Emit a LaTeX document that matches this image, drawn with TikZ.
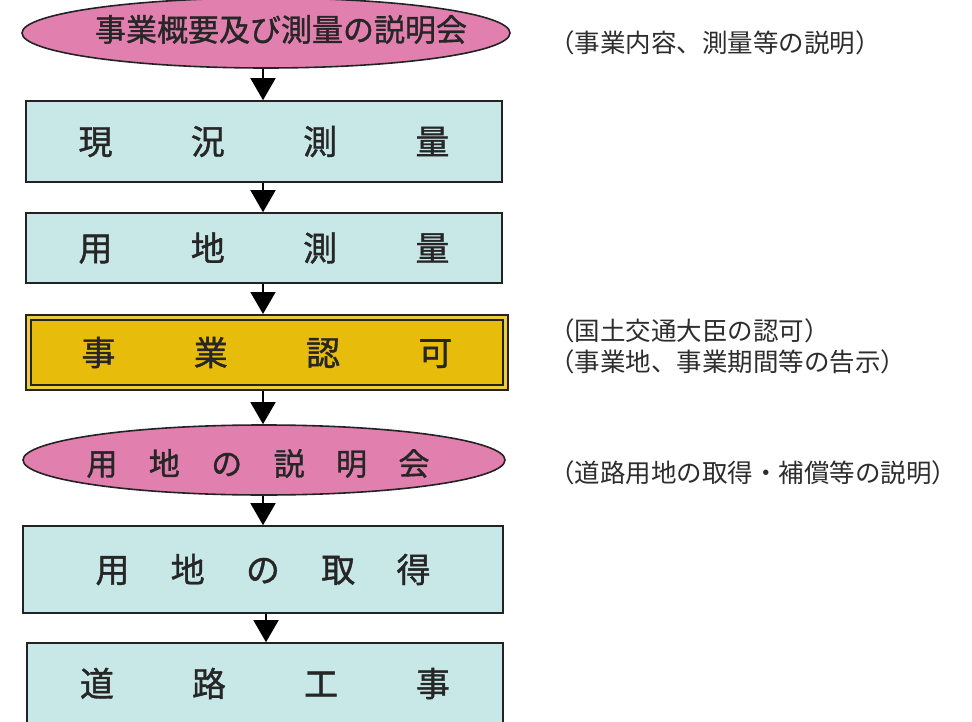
\documentclass[tikz,border=0pt]{standalone}
\usepackage{fontspec}
\setmainfont{Noto Sans CJK JP}
\newfontfamily\jpheavy{Noto Sans CJK JP}[FakeBold=1.2]
\usetikzlibrary{shapes.geometric,arrows.meta}
\definecolor{pinkfill}{RGB}{225,128,175}
\definecolor{cyanfill}{RGB}{200,232,232}
\definecolor{goldfill}{RGB}{232,188,10}
\definecolor{goldlight}{RGB}{238,205,60}
\definecolor{edgecol}{RGB}{35,35,35}
\definecolor{notecol}{RGB}{45,45,45}
\begin{document}
\begin{tikzpicture}[x=1pt,y=-1pt,
  ell/.style={ellipse,draw=edgecol,line width=1.6pt,fill=pinkfill,inner sep=0pt},
  box/.style={rectangle,draw=edgecol,line width=1.6pt,fill=cyanfill,inner sep=0pt},
  gbox/.style={rectangle,draw=edgecol,line width=1.4pt,double=goldlight,double distance=3.4pt,fill=goldfill,inner sep=0pt,outer sep=3.5pt},
  big/.style={font=\jpheavy\fontsize{34pt}{34pt}\selectfont,text=black!85},
  mid/.style={font=\jpheavy\fontsize{31pt}{31pt}\selectfont,text=black!85},
  note/.style={font=\fontsize{25.5pt}{25.5pt}\selectfont,text=notecol,anchor=west,inner sep=0pt},
  arr/.style={draw=black,line width=1.6pt,-{Triangle[width=25pt,length=22pt]}}]
\useasboundingbox (0,0) rectangle (972,722);
\coordinate (ax) at (263,0);
\coordinate (ax2) at (266,0);

\node[ell,minimum width=488pt,minimum height=70pt,
  label={[mid,xshift=15pt,yshift=3.5pt]center:事業概要及び測量の説明会}] (e1) at (266,33) {};
\node[box,big,minimum width=476pt,minimum height=81pt] (b1) at (264,141.5)
  {\makebox[371pt]{現\hfill 況\hfill 測\hfill 量}};
\node[box,big,minimum width=476pt,minimum height=70pt] (b2) at (264,248)
  {\makebox[371pt]{用\hfill 地\hfill 測\hfill 量}};
\node[gbox,big,minimum width=477pt,minimum height=70pt] (b3) at (267,352.5)
  {\makebox[371pt]{事\hfill 業\hfill 認\hfill 可}};
\node[ell,minimum width=482pt,minimum height=70pt,
  label={[mid,xshift=-6pt,yshift=-3.5pt]center:\makebox[343pt]{用\hfill 地\hfill の\hfill 説\hfill 明\hfill 会}}] (e2) at (264,460) {};
\node[box,big,minimum width=480pt,minimum height=87pt] (b4) at (263,569.5)
  {\makebox[335pt]{用\hfill 地\hfill の\hfill 取\hfill 得}};
\node[box,big,minimum width=476pt,minimum height=87pt,
  label={[big,yshift=3pt]center:\makebox[370pt]{道\hfill 路\hfill 工\hfill 事}}] (b5) at (265,686.5) {};

\node[note] (n1) at (549,43) {（事業内容、測量等の説明）};
\node[note] (n2) at (549,331) {（国土交通大臣の認可）};
\node[note] (n3) at (549,362) {（事業地、事業期間等の告示）};
\node[note] (n4) at (549,473) {（道路用地の取得・補償等の説明）};

\draw[arr] (e1.south -| ax) -- (b1.north -| ax);
\draw[arr] (b1.south -| ax) -- (b2.north -| ax);
\draw[arr] (b2.south -| ax) -- (b3.north -| ax);
\draw[arr] (b3.south -| ax) -- (e2.north -| ax);
\draw[arr] (e2.south -| ax) -- (b4.north -| ax);
\draw[arr] (b4.south -| ax2) -- (b5.north -| ax2);
\end{tikzpicture}
\end{document}
